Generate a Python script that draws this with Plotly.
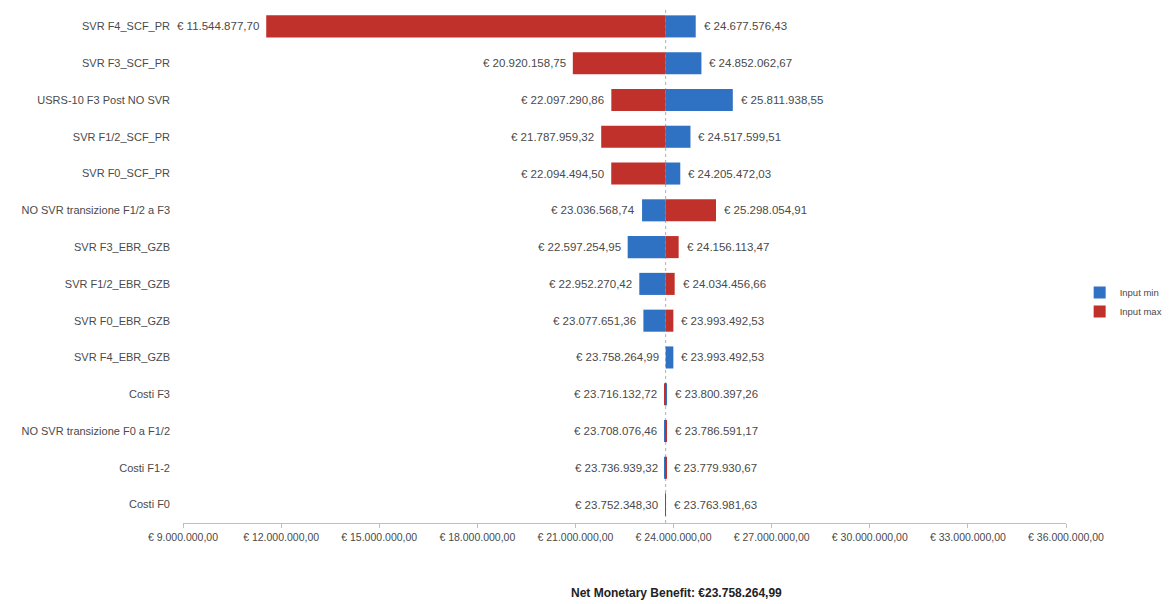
import plotly.graph_objects as go

# Tornado analysis of the Net Monetary Benefit
base_nmb = 23758264.99

categories = [
    "SVR F4_SCF_PR",
    "SVR F3_SCF_PR",
    "USRS-10 F3 Post NO SVR",
    "SVR F1/2_SCF_PR",
    "SVR F0_SCF_PR",
    "NO SVR transizione F1/2 a F3",
    "SVR F3_EBR_GZB",
    "SVR F1/2_EBR_GZB",
    "SVR F0_EBR_GZB",
    "SVR F4_EBR_GZB",
    "Costi F3",
    "NO SVR transizione F0 a F1/2",
    "Costi F1-2",
    "Costi F0",
]

# NMB obtained with each input at its minimum value
input_min = [
    24677576.43, 24852062.67, 25811938.55, 24517599.51, 24205472.03,
    23036568.74, 22597254.95, 22952270.42, 23077651.36, 23993492.53,
    23800397.26, 23708076.46, 23736939.32, 23752348.30,
]

# NMB obtained with each input at its maximum value
input_max = [
    11544877.70, 20920158.75, 22097290.86, 21787959.32, 22094494.50,
    25298054.91, 24156113.47, 24034456.66, 23993492.53, 23758264.99,
    23716132.72, 23786591.17, 23779930.67, 23763981.63,
]

tick_values = [9e6, 12e6, 15e6, 18e6, 21e6, 24e6, 27e6, 30e6, 33e6, 36e6]


def euro(v):
    s = f"{v:,.2f}"
    s = s.replace(",", "X").replace(".", ",").replace("X", ".")
    return "€ " + s


BLUE = "#2f72c4"
RED = "#c1312b"
TEXT = "#4a4a4a"
FONT = "Liberation Sans, Arial"

fig = go.Figure()
fig.add_trace(go.Bar(
    y=categories, x=[v - base_nmb for v in input_min], base=base_nmb,
    orientation="h", name="Input min", marker=dict(color=BLUE, line=dict(width=0)),
    width=0.6,
))
fig.add_trace(go.Bar(
    y=categories, x=[v - base_nmb for v in input_max], base=base_nmb,
    orientation="h", name="Input max", marker=dict(color=RED, line=dict(width=0)),
    width=0.6,
))

# value labels on both ends of each row
for cat, a, b in zip(categories, input_min, input_max):
    lo, hi = min(a, b), max(a, b)
    fig.add_annotation(x=lo, y=cat, text=euro(lo), showarrow=False,
                       xanchor="right", xshift=-5,
                       font=dict(family=FONT, size=11.5, color=TEXT))
    fig.add_annotation(x=hi, y=cat, text=euro(hi), showarrow=False,
                       xanchor="left", xshift=6,
                       font=dict(family=FONT, size=11.5, color=TEXT))

# vertical axis at the base-case value
fig.add_shape(type="line", x0=base_nmb, x1=base_nmb, y0=0, y1=1, yref="paper",
              line=dict(color="#b0b0b0", width=1, dash="dot"), layer="below")

fig.add_annotation(x=0.559, y=-0.135, xref="paper", yref="paper",
                   text="<b>Net Monetary Benefit: €23.758.264,99</b>",
                   showarrow=False, yanchor="middle",
                   font=dict(family=FONT, size=12, color="#222222"))

fig.update_layout(
    width=1169, height=604,
    margin=dict(l=183, r=103, t=8, b=81, autoexpand=False),
    paper_bgcolor="white", plot_bgcolor="white",
    barmode="overlay",
    font=dict(family=FONT, size=12, color=TEXT),
    legend=dict(xref="container", yref="container", x=0.998, y=0.5,
                xanchor="right", yanchor="middle",
                font=dict(family=FONT, size=9.5, color=TEXT),
                itemwidth=30, tracegroupgap=4),
    showlegend=True,
)
fig.update_xaxes(
    range=[9e6, 36e6], tickvals=tick_values,
    ticktext=[euro(v) for v in tick_values],
    showgrid=False, zeroline=False, showline=True, linecolor="#bfbfbf",
    ticks="outside", ticklen=4, tickcolor="#bfbfbf",
    tickfont=dict(family=FONT, size=10.5, color=TEXT),
)
fig.update_yaxes(
    categoryorder="array", categoryarray=categories, autorange="reversed",
    showgrid=False, zeroline=False, showline=False, ticks="",
    ticklabelstandoff=12,
    tickfont=dict(family=FONT, size=11, color=TEXT),
)

fig.write_html("out.html")
